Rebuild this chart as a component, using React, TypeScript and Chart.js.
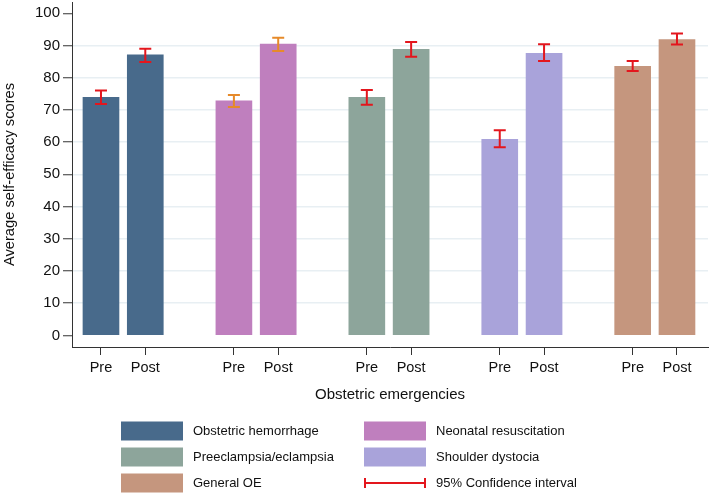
import React, { useEffect, useRef } from "react";
import { Chart, registerables } from "chart.js";

Chart.register(...registerables);

const categories = [
  "Obstetric hemorrhage",
  "Neonatal resuscitation",
  "Preeclampsia/eclampsia",
  "Shoulder dystocia",
  "General OE",
];
const barColors = ["#486a8b", "#bf7fbe", "#8da59b", "#a9a3da", "#c5967e"];
const ciColors = ["#e3161d", "#e68a2a", "#e3161d", "#e3161d", "#e3161d"];
const tickLabels = ["Pre", "Post"];

const preMean = [73.9, 72.8, 73.9, 60.9, 83.5];
const postMean = [87.1, 90.4, 88.8, 87.6, 91.8];
const preLow = [71.8, 70.9, 71.6, 58.4, 82.1];
const preHigh = [76.0, 74.6, 76.2, 63.7, 85.2];
const postLow = [84.9, 88.3, 86.5, 85.2, 90.3];
const postHigh = [89.0, 92.4, 91.1, 90.4, 93.7];
const yTicks = [0, 10, 20, 30, 40, 50, 60, 70, 80, 90, 100];
const ciLabel = "95% Confidence interval";

const FONT = "'Liberation Sans', Arial, Helvetica, sans-serif";

const errorBarPlugin = {
  id: "errorBars",
  afterDatasetsDraw(chart: any) {
    const ctx = chart.ctx;
    const yScale = chart.scales.y;
    ctx.save();
    categories.forEach((_, i) => {
      const meta = chart.getDatasetMeta(i);
      const lows = [preLow[i], postLow[i]];
      const highs = [preHigh[i], postHigh[i]];
      meta.data.forEach((el: any, j: number) => {
        const x = el.x;
        const yl = yScale.getPixelForValue(lows[j]);
        const yh = yScale.getPixelForValue(highs[j]);
        ctx.strokeStyle = ciColors[i];
        ctx.lineWidth = 2;
        ctx.beginPath();
        ctx.moveTo(x, yl);
        ctx.lineTo(x, yh);
        ctx.moveTo(x - 6, yl);
        ctx.lineTo(x + 6, yl);
        ctx.moveTo(x - 6, yh);
        ctx.lineTo(x + 6, yh);
        ctx.stroke();
      });
    });
    ctx.restore();
  },
};

const legendPlugin = {
  id: "customLegend",
  afterDraw(chart: any) {
    const ctx = chart.ctx;
    ctx.save();
    const colX = [121, 364];
    const rowY = [431, 457, 483];
    const swW = 62;
    const swH = 19;
    ctx.font = `13px ${FONT}`;
    ctx.textBaseline = "middle";
    ctx.textAlign = "left";
    const items = categories.map((c, i) => ({ label: c, color: barColors[i], ci: false }));
    items.push({ label: ciLabel, color: ciColors[0], ci: true });
    items.forEach((it, k) => {
      const col = k % 2;
      const row = Math.floor(k / 2);
      const x = colX[col];
      const y = rowY[row];
      if (it.ci) {
        ctx.strokeStyle = it.color;
        ctx.lineWidth = 2;
        ctx.beginPath();
        ctx.moveTo(x, y);
        ctx.lineTo(x + swW, y);
        ctx.moveTo(x + 1, y - 5);
        ctx.lineTo(x + 1, y + 5);
        ctx.moveTo(x + swW - 1, y - 5);
        ctx.lineTo(x + swW - 1, y + 5);
        ctx.stroke();
      } else {
        ctx.fillStyle = it.color;
        ctx.fillRect(x, y - swH / 2, swW, swH);
      }
      ctx.fillStyle = "#111";
      ctx.fillText(it.label, x + swW + 10, y);
    });
    ctx.restore();
  },
};

export default function App() {
  const ref = useRef<HTMLCanvasElement | null>(null);
  useEffect(() => {
    if (!ref.current) return;
    Chart.defaults.font.family = FONT;
    const datasets = categories.map((c, i) => ({
      label: c,
      data: [
        { x: 3 * i, y: preMean[i] },
        { x: 3 * i + 1, y: postMean[i] },
      ],
      backgroundColor: barColors[i],
      borderWidth: 0,
      barThickness: 36,
      grouped: false,
    }));
    const chart = new Chart(ref.current, {
      type: "bar",
      data: { datasets },
      plugins: [errorBarPlugin, legendPlugin],
      options: {
        animation: false,
        responsive: false,
        devicePixelRatio: 1,
        layout: { padding: { left: 0, top: 2, right: 1, bottom: 0 } },
        plugins: { legend: { display: false }, tooltip: { enabled: false } },
        scales: {
          x: {
            type: "linear",
            offset: false,
            min: -0.654,
            max: 13.7,
            afterBuildTicks: (scale: any) => {
              const t: any[] = [];
              categories.forEach((_, i) => {
                t.push({ value: 3 * i });
                t.push({ value: 3 * i + 1 });
              });
              scale.ticks = t;
            },
            afterFit: (scale: any) => {
              scale.height = 148;
              scale.paddingLeft = 0;
              scale.paddingRight = 0;
            },
            ticks: {
              autoSkip: false,
              maxRotation: 0,
              padding: 4,
              color: "#111",
              font: { size: 14.5 },
              callback: (v: any) => tickLabels[Number(v) % 3] ?? "",
            },
            grid: {
              offset: false,
              drawOnChartArea: false,
              tickLength: 8,
              tickColor: "#333",
              tickWidth: 1,
            },
            border: { color: "#333", width: 1 },
            title: {
              display: true,
              text: "Obstetric emergencies",
              color: "#111",
              font: { size: 15 },
              padding: { top: 0, bottom: 91 },
            },
          },
          y: {
            min: -3.6,
            max: 103.5,
            afterBuildTicks: (scale: any) => {
              scale.ticks = yTicks.map((v) => ({ value: v }));
            },
            afterFit: (scale: any) => {
              scale.width = 72;
              scale.paddingTop = 0;
              scale.paddingBottom = 0;
            },
            ticks: {
              padding: 3,
              color: "#111",
              font: { size: 15 },
            },
            grid: {
              color: (c: any) =>
                c.tick && (c.tick.value === 0 || c.tick.value === 100)
                  ? "rgba(0,0,0,0)"
                  : "#e8eff3",
              lineWidth: 1.5,
              tickLength: 9,
              tickColor: "#333",
              tickWidth: 1,
            },
            border: { color: "#333", width: 1 },
            title: {
              display: true,
              text: "Average self-efficacy scores",
              color: "#111",
              font: { size: 14.7 },
              padding: { top: 1, bottom: 0 },
            },
          },
        },
      },
    } as any);
    return () => chart.destroy();
  }, []);
  return (
    <div style={{ position: "fixed", left: 0, top: 0, width: 709, height: 495 }}>
      <canvas ref={ref} width={709} height={495} style={{ width: 709, height: 495 }} />
    </div>
  );
}
